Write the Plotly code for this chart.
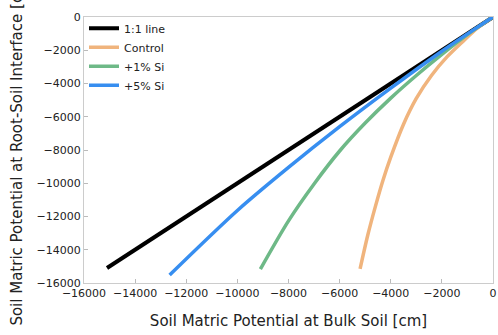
import plotly.graph_objects as go

# 1:1 reference line
one_x = [0, -15100]
one_y = [0, -15100]

# Control
ctrl_x = [0, -600, -1200, -1800, -2400, -3000, -3500, -4000, -4300, -4600, -4900, -5200]
ctrl_y = [0, -660, -1500, -2400, -3500, -4900, -6450, -8430, -9800, -11390, -13130, -15150]

# +1% Si
si1_x = [0, -1000, -2000, -3000, -4000, -5000, -6000, -7000, -8000, -9100]
si1_y = [0, -1060, -2250, -3520, -4880, -6380, -8060, -10040, -12260, -15160]

# +5% Si
si5_x = [0, -2000, -4000, -6000, -8000, -10000, -12650]
si5_y = [0, -2060, -4280, -6600, -9050, -11640, -15520]

tick_vals = [-16000, -14000, -12000, -10000, -8000, -6000, -4000, -2000, 0]
tick_text = ["\u221216000", "\u221214000", "\u221212000", "\u221210000", "\u22128000",
             "\u22126000", "\u22124000", "\u22122000", "0"]

FONT = "DejaVu Sans"

fig = go.Figure()
fig.add_trace(go.Scatter(x=one_x, y=one_y, mode="lines", name="1:1 line",
                         line=dict(color="black", width=4)))
fig.add_trace(go.Scatter(x=ctrl_x, y=ctrl_y, mode="lines", name="Control",
                         line=dict(color="rgb(240,180,125)", width=3.5, shape="spline", smoothing=0.8)))
fig.add_trace(go.Scatter(x=si1_x, y=si1_y, mode="lines", name="+1% Si",
                         line=dict(color="rgb(110,185,135)", width=3.5, shape="spline", smoothing=0.8)))
fig.add_trace(go.Scatter(x=si5_x, y=si5_y, mode="lines", name="+5% Si",
                         line=dict(color="rgb(55,142,240)", width=3.5, shape="spline", smoothing=0.8)))

axis_common = dict(
    tickvals=tick_vals, ticktext=tick_text,
    ticks="inside", ticklen=4, tickcolor="#bbbbbb",
    showline=True, linecolor="#cccccc", linewidth=1, mirror=True,
    showgrid=False, zeroline=False,
    tickfont=dict(family=FONT, size=11, color="#222222"),
)

fig.update_layout(
    width=498, height=335,
    margin=dict(l=84, r=5, t=17, b=52, autoexpand=False),
    paper_bgcolor="white", plot_bgcolor="white",
    font=dict(family=FONT, color="#222222"),
    xaxis=dict(range=[-16000, 0], title=dict(text="Soil Matric Potential at Bulk Soil [cm]",
               font=dict(family=FONT, size=15), standoff=16), **axis_common),
    yaxis=dict(range=[-16000, 0], title=dict(text="Soil Matric Potential at Root-Soil Interface [cm]",
               font=dict(family=FONT, size=15), standoff=10), **axis_common),
    legend=dict(x=0.0, y=1.012, xanchor="left", yanchor="top",
                bgcolor="rgba(0,0,0,0)", font=dict(family=FONT, size=11),
                itemwidth=30),
    showlegend=True,
)

fig.write_html("out.html",
               config={"displayModeBar": False},
               post_script="document.body.style.margin='0';document.body.style.overflow='hidden';")
